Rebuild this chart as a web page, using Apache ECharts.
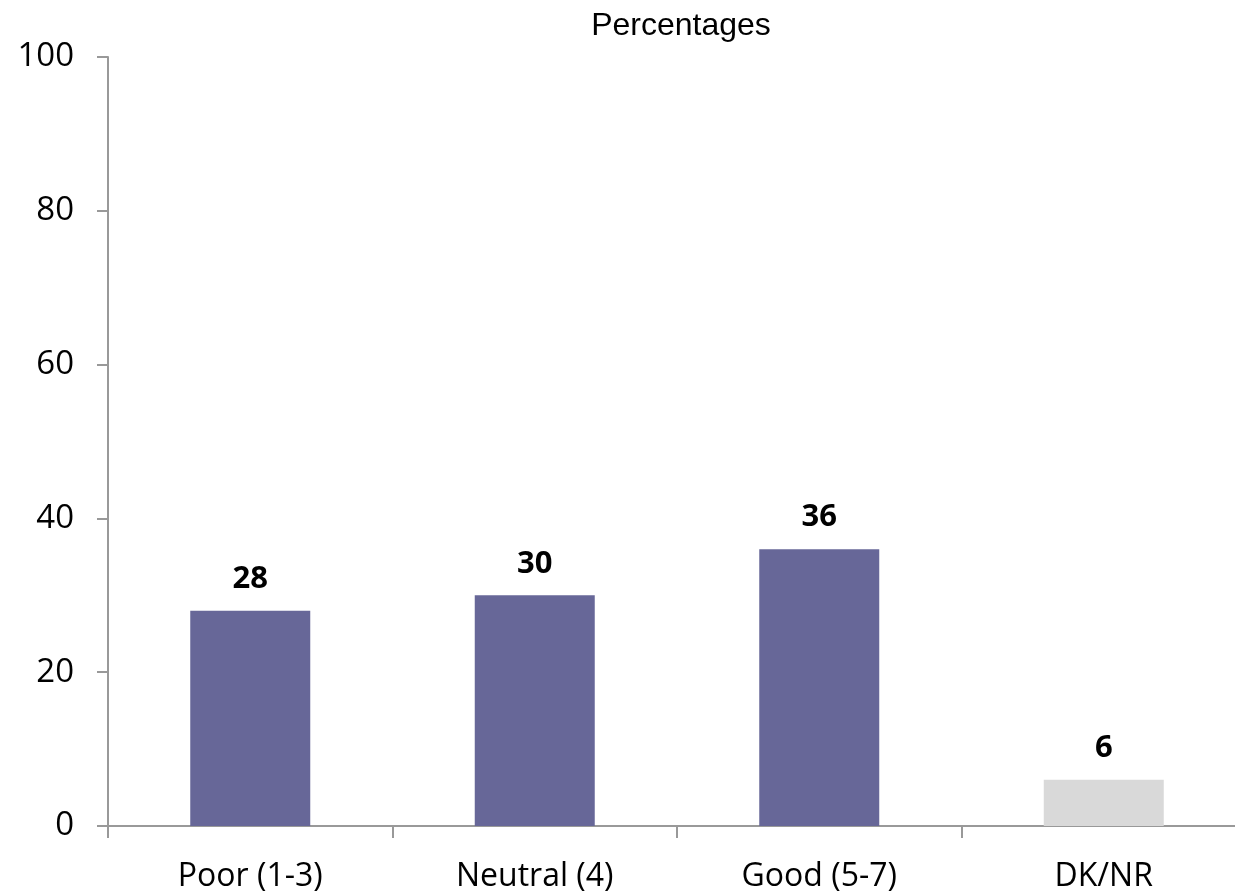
<!DOCTYPE html>
<html>
<head>
<meta charset="utf-8">
<script src="https://cdn.jsdelivr.net/npm/echarts@6/dist/echarts.min.js"></script>
<style>
  html, body { margin: 0; padding: 0; background: #fff; }
  #chart { width: 1235px; height: 894px; }
</style>
</head>
<body>
<div id="chart"></div>
<script>
// Survey ratings, share of respondents
const categories = ['Poor (1-3)', 'Neutral (4)', 'Good (5-7)', 'DK/NR'];
const values = [28, 30, 36, 6];
const barColors = ['#676798', '#676798', '#676798', '#d9d9d9'];
const yTicks = [0, 20, 40, 60, 80, 100];

const chart = echarts.init(document.getElementById('chart'), null, { renderer: 'canvas' });

chart.setOption({
  animation: false,
  backgroundColor: '#ffffff',
  title: {
    text: 'Percentages',
    left: 676,
    top: 5,
    textAlign: 'center',
    textStyle: { fontFamily: 'Liberation Sans', fontSize: 32, fontWeight: 'normal', color: '#000' }
  },
  // plot area runs past the right edge so the last category is cut like the axis line
  grid: {
    left: 108, width: 1138, top: 57, bottom: 68,
    containLabel: false,
    outerBoundsMode: 'none'
  },
  xAxis: {
    type: 'category',
    data: categories,
    boundaryGap: true,
    axisLine: { show: true, lineStyle: { color: '#999999', width: 2 } },
    axisTick: { show: true, length: 12, lineStyle: { color: '#999999', width: 2 } },
    axisLabel: { margin: 35, fontFamily: 'Open Sans', fontSize: 32, color: '#000' },
    splitLine: { show: false }
  },
  yAxis: {
    type: 'value',
    min: yTicks[0],
    max: yTicks[yTicks.length - 1],
    interval: yTicks[1] - yTicks[0],
    axisLine: { show: true, lineStyle: { color: '#999999', width: 2 } },
    axisTick: { show: true, length: 11, lineStyle: { color: '#999999', width: 2 } },
    axisLabel: { margin: 34, fontFamily: 'Open Sans', fontSize: 33, color: '#000' },
    splitLine: { show: false }
  },
  series: [{
    type: 'bar',
    data: values.map((v, i) => ({ value: v, itemStyle: { color: barColors[i] } })),
    barWidth: 120,
    label: {
      show: true,
      position: 'top',
      distance: 16,
      fontFamily: 'Open Sans',
      fontWeight: 'bold',
      fontSize: 31,
      color: '#000'
    }
  }]
});
</script>
</body>
</html>
